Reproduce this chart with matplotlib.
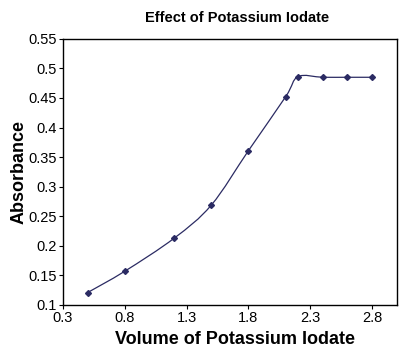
import matplotlib
matplotlib.use("Agg")
import matplotlib.pyplot as plt
import numpy as np
from matplotlib.path import Path
from matplotlib.patches import PathPatch

volume = [0.5, 0.8, 1.2, 1.5, 1.8, 2.1, 2.2, 2.4, 2.6, 2.8]
absorbance = [0.121, 0.157, 0.213, 0.269, 0.361, 0.452, 0.486, 0.485, 0.485, 0.485]
xticks = [0.3, 0.8, 1.3, 1.8, 2.3, 2.8]
yticks = [0.1, 0.15, 0.2, 0.25, 0.3, 0.35, 0.4, 0.45, 0.5, 0.55]

plt.rcParams['font.family'] = ['Liberation Sans', 'DejaVu Sans']
color = '#2b2b63'

fig = plt.figure(figsize=(4.08, 3.53), dpi=100)
ax = fig.add_axes([0.154, 0.136, 0.819, 0.754])

# Excel-style smoothed line: Catmull-Rom segments as cubic Bezier curves
x = np.array(volume, dtype=float)
y = np.array(absorbance, dtype=float)
verts = [(x[0], y[0])]
codes = [Path.MOVETO]
n = len(x)
for i in range(n - 1):
    p0 = np.array([x[max(i - 1, 0)], y[max(i - 1, 0)]])
    p1 = np.array([x[i], y[i]])
    p2 = np.array([x[i + 1], y[i + 1]])
    p3 = np.array([x[min(i + 2, n - 1)], y[min(i + 2, n - 1)]])
    c1 = p1 + (p2 - p0) / 6.0
    c2 = p2 - (p3 - p1) / 6.0
    verts += [tuple(c1), tuple(c2), tuple(p2)]
    codes += [Path.CURVE4, Path.CURVE4, Path.CURVE4]
ax.add_patch(PathPatch(Path(verts, codes), facecolor='none', edgecolor=color, lw=0.9))
ax.plot(volume, absorbance, linestyle='none', marker='D', markersize=3, color=color)

ax.set_xlim(0.3, 3.0)
ax.set_ylim(0.1, 0.55)
ax.set_xticks(xticks)
ax.set_xticklabels([f"{t:g}" for t in xticks])
ax.set_yticks(yticks)
ax.set_yticklabels([f"{t:g}" for t in yticks])
ax.tick_params(axis='both', labelsize=10.5, length=3, width=0.8, pad=1.5, colors='black')
for s in ax.spines.values():
    s.set_linewidth(1.0)

ax.set_title('Effect of Potassium Iodate', fontsize=10.5, fontweight='bold', pad=12, x=0.52)
ax.set_xlabel('Volume of Potassium Iodate', fontsize=13, fontweight='bold', labelpad=4, x=0.515)
ax.set_ylabel('Absorbance', fontsize=13, fontweight='bold', labelpad=0.5)

fig.savefig('out.png', dpi=100)
